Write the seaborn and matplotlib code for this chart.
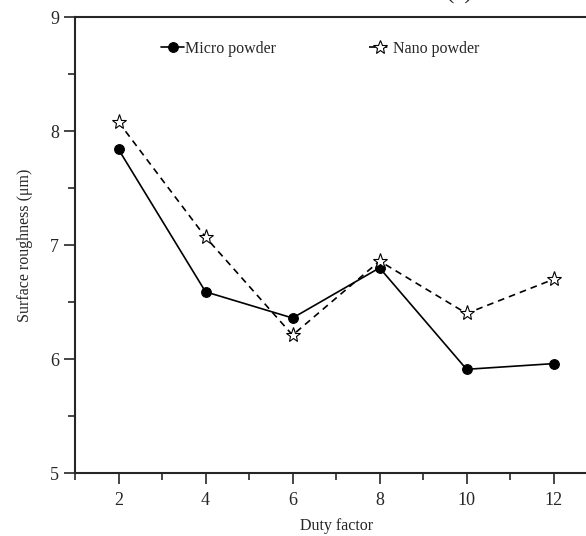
"""Surface roughness vs duty factor for micro and nano powder."""
import matplotlib
matplotlib.use("Agg")
import matplotlib.pyplot as plt
import numpy as np
import pandas as pd
import seaborn as sns
from matplotlib.ticker import MultipleLocator

duty_factor = [2, 4, 6, 8, 10, 12]
micro_powder = [7.84, 6.59, 6.36, 6.80, 5.91, 5.96]
nano_powder = [8.08, 7.07, 6.21, 6.86, 6.40, 6.70]

df = pd.DataFrame({
    "duty": duty_factor * 2,
    "roughness": micro_powder + nano_powder,
    "powder": ["Micro powder"] * len(duty_factor) + ["Nano powder"] * len(duty_factor),
})

sns.set_style("ticks")
plt.rcParams["font.family"] = ["Liberation Serif", "DejaVu Serif"]

fig = plt.figure(figsize=(5.86, 5.36), dpi=100)
ax = fig.add_axes([0.128, 0.1175, 0.891, 0.8505])

sns.lineplot(
    data=df, x="duty", y="roughness", style="powder", ax=ax,
    color="black", linewidth=1.2,
    markers={"Micro powder": "o", "Nano powder": "*"},
    dashes={"Micro powder": "", "Nano powder": (4, 3)},
    markersize=8, markeredgewidth=0.8, legend="full")

# open stars, filled circles
for line in ax.lines:
    if line.get_marker() == "*":
        line.set_markerfacecolor("white")
        line.set_markeredgecolor("black")
        line.set_markersize(11)
    else:
        line.set_markerfacecolor("black")
        line.set_markeredgecolor("black")
        line.set_markersize(7)

ax.set_xlim(1, 13)
ax.set_ylim(5, 9)
ax.xaxis.set_major_locator(MultipleLocator(2))
ax.xaxis.set_minor_locator(MultipleLocator(1))
ax.yaxis.set_major_locator(MultipleLocator(1))
ax.yaxis.set_minor_locator(MultipleLocator(0.5))
ax.tick_params(which="major", direction="out", length=8, width=1.2, labelsize=13)
ax.tick_params(axis="x", which="major", pad=6)
ax.tick_params(which="minor", direction="out", length=5, width=1.2)

for side in ["left", "bottom", "top", "right"]:
    ax.spines[side].set_visible(True)
    ax.spines[side].set_linewidth(1.5)

ax.set_xlabel("Duty factor", fontsize=11.5, labelpad=6)
ax.set_ylabel("Surface roughness (μm)", fontsize=11.5, labelpad=12)

handles, labels = ax.get_legend_handles_labels()
for h in handles:
    if h.get_marker() == "*":
        h.set_markerfacecolor("white")
        h.set_markersize(10)
    else:
        h.set_markerfacecolor("black")
        h.set_markersize(7)
ax.legend(handles, labels, loc="upper center", bbox_to_anchor=(0.47, 0.98),
          ncol=2, frameon=False, fontsize=11.5, handlelength=1.4,
          handletextpad=0.1, columnspacing=5.8)

# title fragment cut off at the top of the original figure
fig.text(0.784, 1.0 - 4 / 536, "(a)", fontsize=18, ha="center", va="bottom")

fig.savefig("out.png", dpi=100)
